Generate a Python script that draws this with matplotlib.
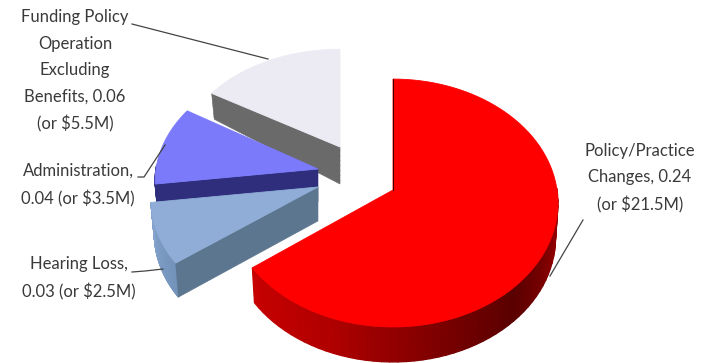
import numpy as np
import matplotlib
matplotlib.use("Agg")
import matplotlib.pyplot as plt
from matplotlib.collections import PolyCollection
from matplotlib.colors import to_rgb
from matplotlib.patches import Polygon

# Pie values, clockwise from 12 o'clock
slice_names = ["Policy/Practice Changes", "Hearing Loss", "Administration",
               "Funding Policy Operation Excluding Benefits"]
slice_values = [0.24, 0.03, 0.04, 0.06]
slice_labels = [
    "Policy/Practice\nChanges, 0.24\n(or $21.5M)",
    "Hearing Loss,\n0.03 (or $2.5M)",
    "Administration,\n0.04 (or $3.5M)",
    "Funding Policy\nOperation\nExcluding\nBenefits, 0.06\n(or $5.5M)",
]

# Layout in pixels: exploded apex, radii, extrusion, depth falloff, bottom shrink
apex_xy = [(393, 190), (318, 187), (318, 169), (340, 147)]
radii = [(164, 122.6), (166, 120), (162, 117), (159, 108)]
depths = [35, 34, 33, 37]
depth_tilt = [0.0, 0.0, 0.0, 0.57]
shrink = [0.985, 0.98, 0.98, 0.98]
PERSPECTIVE = 0.105

top_colors = ["#FF0000", "#8FADD6", "#7A7AFB", "#ECEAF3"]
cut_colors = ["#8A0000", "#5C7690", "#2E2E7C", "#6A6A6A"]
rim_stops = [
    [(-143.5, "#C80000"), (-110, "#B00000"), (-70, "#740000"), (-48, "#5A0000"),
     (-20, "#8A0000"), (10, "#A00000")],
    [(-143.5, "#7392BA"), (-172.7, "#86A5CE")],
    [(-172.7, "#2E2E7C"), (-211.6, "#2E2E7C")],
    [(-211.6, "#6A6A6A"), (-270, "#6A6A6A")],
]
label_xy = [(640, 178), (79, 278), (78, 185), (75, 71)]
leaders = [
    [(550, 276), (583, 220)],
    [(132, 272), (145, 271), (163, 269)],
    [(138, 177), (144, 177), (165, 145)],
    [(132, 24), (268, 59)],
]

plt.rcParams["font.family"] = ["Lato", "DejaVu Sans"]
fig = plt.figure(figsize=(7.07, 3.63), dpi=100)
ax = fig.add_axes([0, 0, 1, 1])
ax.set_xlim(0, 707)
ax.set_ylim(363, 0)
ax.axis("off")


def top_point(i, t, r=1.0):
    # disc point -> screen, with a mild perspective on the depth axis
    u, v = r * np.cos(t), r * np.sin(t)
    w = 1 / (1 + PERSPECTIVE * v)
    return (apex_xy[i][0] + radii[i][0] * u * w,
            apex_xy[i][1] - radii[i][1] * v * w)


def low_point(i, t, r=1.0):
    x, y = top_point(i, t, r)
    v = r * np.sin(t)
    ax_ = apex_xy[i][0]
    return (ax_ + (x - ax_) * shrink[i],
            y + depths[i] * (1 - depth_tilt[i] * v))


def rim_color(i, deg):
    stops = sorted(rim_stops[i])
    pos = [s[0] for s in stops]
    rgb = np.array([to_rgb(s[1]) for s in stops])
    return [np.interp(deg, pos, rgb[:, c]) for c in range(3)]


# angles from the values, running clockwise from the top
fracs = np.array(slice_values) / sum(slice_values)
edges = 90 - 360 * np.concatenate([[0], np.cumsum(fracs)])

# back-to-front so nearer slices cover farther ones
for i in [3, 2, 1, 0]:
    start, stop = edges[i], edges[i + 1]
    ts = np.radians(np.linspace(start, stop, 90))

    # outer rim as thin shaded strips, front half of the disc only
    quads, cols = [], []
    for a, b in zip(ts[:-1], ts[1:]):
        if np.sin((a + b) / 2) > 0.03:
            continue
        quads.append([top_point(i, a), top_point(i, b), low_point(i, b), low_point(i, a)])
        cols.append(rim_color(i, np.degrees((a + b) / 2)))
    if quads:
        ax.add_collection(PolyCollection(quads, facecolors=cols, edgecolors=cols,
                                         linewidths=0.9, zorder=i * -3 + 10))

    # cut face on the counter-clockwise side of the slice, the one facing the viewer
    t_cut = ts[0]
    cut = [top_point(i, 0, 0), top_point(i, t_cut), low_point(i, t_cut), low_point(i, 0, 0)]
    ax.add_patch(Polygon(cut, closed=True, fc=cut_colors[i], ec=cut_colors[i], lw=0.4,
                         zorder=i * -3 + 11))

    # top face
    outline = [top_point(i, 0, 0)] + [top_point(i, t) for t in ts]
    ax.add_patch(Polygon(outline, closed=True, fc=top_colors[i], ec=top_colors[i], lw=0.6,
                         zorder=i * -3 + 12))

# faint banding on the grey cut face
t_cut = np.radians(edges[3])
for s in np.linspace(0.1, 0.9, 7):
    a0, a1 = top_point(3, 0, 0), top_point(3, t_cut)
    b0, b1 = low_point(3, 0, 0), low_point(3, t_cut)
    ax.plot([a0[0] + (b0[0] - a0[0]) * s, a1[0] + (b1[0] - a1[0]) * s],
            [a0[1] + (b0[1] - a0[1]) * s, a1[1] + (b1[1] - a1[1]) * s],
            color="#5E5E5E", lw=0.5, zorder=1.5)

# dark sliver along the vertical cut of the big slice
p0, p1 = top_point(0, 0, 0), top_point(0, np.radians(90))
ax.plot([p0[0] - 0.5, p1[0] - 0.5], [p0[1], p1[1]], color="#3A0000", lw=0.7, zorder=13)

# callouts
for pts, xy, text in zip(leaders, label_xy, slice_labels):
    ax.plot([p[0] for p in pts], [p[1] for p in pts], color="#444444", lw=0.9, zorder=20)
    ax.text(xy[0], xy[1], text, ha="center", va="center", fontsize=12,
            color="#3A3A3A", linespacing=1.8, zorder=21)

fig.savefig("out.png", dpi=100)
